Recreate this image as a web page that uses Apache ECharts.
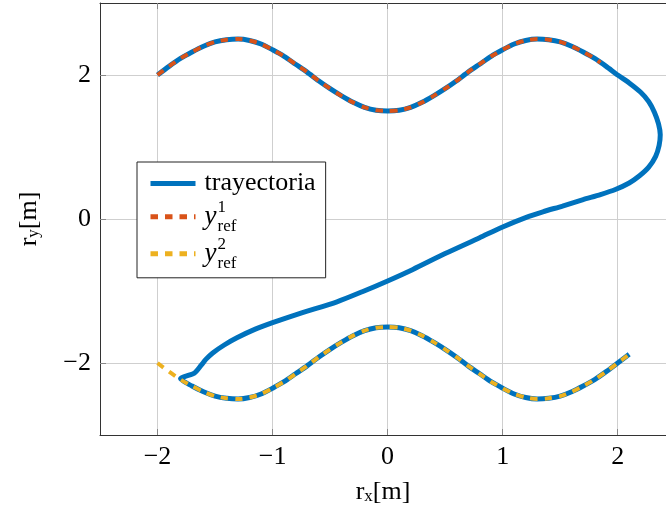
<!DOCTYPE html>
<html><head><meta charset="utf-8">
<script src="https://cdn.jsdelivr.net/npm/echarts@6/dist/echarts.min.js"></script>
<style>html,body{margin:0;padding:0;background:#fff}#c{width:666px;height:512px}</style>
</head><body><div id="c"></div>
<script>
// Reference y_ref^1 (upper curve)
const ref1X = [-2.0,-1.9,-1.8,-1.7,-1.6,-1.5,-1.4,-1.3,-1.2,-1.1,-1.0,-0.9,-0.8,-0.7,-0.6,-0.5,-0.4,-0.3,-0.2,-0.1,0.0,0.1,0.2,0.3,0.4,0.5,0.6,0.7,0.8,0.9,1.0,1.1,1.2,1.3,1.4,1.5,1.6,1.7,1.8,1.85];
const ref1Y = [2.00,2.12,2.23,2.32,2.40,2.46,2.49,2.50,2.48,2.43,2.35,2.26,2.15,2.04,1.92,1.81,1.71,1.62,1.55,1.51,1.50,1.51,1.55,1.62,1.71,1.81,1.92,2.04,2.15,2.26,2.35,2.43,2.48,2.50,2.49,2.46,2.40,2.32,2.23,2.17];
// Reference y_ref^2 (lower curve)
const ref2X = [-2.0,-1.9,-1.8,-1.7,-1.6,-1.5,-1.4,-1.3,-1.2,-1.1,-1.0,-0.9,-0.8,-0.7,-0.6,-0.5,-0.4,-0.3,-0.2,-0.1,0.0,0.1,0.2,0.3,0.4,0.5,0.6,0.7,0.8,0.9,1.0,1.1,1.2,1.3,1.4,1.5,1.6,1.7,1.8,1.9,2.0,2.1];
const ref2Y = [-2.00,-2.12,-2.23,-2.32,-2.40,-2.46,-2.49,-2.50,-2.48,-2.43,-2.35,-2.26,-2.15,-2.04,-1.92,-1.81,-1.71,-1.62,-1.55,-1.51,-1.50,-1.51,-1.55,-1.62,-1.71,-1.81,-1.92,-2.04,-2.15,-2.26,-2.35,-2.43,-2.48,-2.50,-2.49,-2.46,-2.40,-2.32,-2.23,-2.12,-2.00,-1.88];
// Trajectory
const trajX = [-2.0,-1.9,-1.8,-1.7,-1.6,-1.5,-1.4,-1.3,-1.2,-1.1,-1.0,-0.9,-0.8,-0.7,-0.6,-0.5,-0.4,-0.3,-0.2,-0.1,0.0,0.1,0.2,0.3,0.4,0.5,0.6,0.7,0.8,0.9,1.0,1.1,1.2,1.3,1.4,1.5,1.6,1.7,1.8,
  1.9,2.0,2.1,2.2,2.27,2.32,2.355,2.37,2.36,2.33,2.27,2.19,2.1,1.98,1.85,1.7,1.52,1.35,1.2,1.0,0.8,0.5,0.22,0.0,-0.22,-0.44,-0.76,-1.0,-1.15,-1.31,-1.42,-1.52,-1.58,-1.62,-1.68,-1.80,
  -1.7,-1.6,-1.5,-1.4,-1.3,-1.2,-1.1,-1.0,-0.9,-0.8,-0.7,-0.6,-0.5,-0.4,-0.3,-0.2,-0.1,0.0,0.1,0.2,0.3,0.4,0.5,0.6,0.7,0.8,0.9,1.0,1.1,1.2,1.3,1.4,1.5,1.6,1.7,1.8,1.9,2.0,2.1];
const trajY = [2.00,2.12,2.23,2.32,2.40,2.46,2.49,2.50,2.48,2.43,2.35,2.26,2.15,2.04,1.92,1.81,1.71,1.62,1.55,1.51,1.50,1.51,1.55,1.62,1.71,1.81,1.92,2.04,2.15,2.26,2.35,2.43,2.48,2.50,2.49,2.46,2.40,2.32,2.23,
  2.12,2.00,1.89,1.76,1.63,1.48,1.32,1.17,1.02,0.87,0.72,0.60,0.50,0.41,0.34,0.27,0.18,0.10,0.02,-0.11,-0.26,-0.48,-0.70,-0.86,-1.01,-1.15,-1.31,-1.44,-1.53,-1.65,-1.75,-1.86,-1.95,-2.03,-2.14,-2.22,
  -2.32,-2.40,-2.46,-2.49,-2.50,-2.48,-2.43,-2.35,-2.26,-2.15,-2.04,-1.92,-1.81,-1.71,-1.62,-1.55,-1.51,-1.50,-1.51,-1.55,-1.62,-1.71,-1.81,-1.92,-2.04,-2.15,-2.26,-2.35,-2.43,-2.48,-2.50,-2.49,-2.46,-2.40,-2.32,-2.23,-2.12,-2.00,-1.88];
const xTicks = [-2,-1,0,1,2];
const yTicks = [-2,0,2];

const SERIF = "'Liberation Serif','DejaVu Serif',serif";
const zip = (a,b) => a.map((v,i)=>[v,b[i]]);
const fmt = v => v < 0 ? '\u2212' + (-v) : String(v);
const legendText = {
  'trayectoria': '{n|trayectoria}',
  'y1': '{y|y}{sup|1}{sub|ref}',
  'y2': '{y|y}{sup|2}{sub|ref}'
};
const DASH = [7.5, 7];

const chart = echarts.init(document.getElementById('c'), null, {renderer:'canvas'});
chart.setOption({
  animation:false,
  backgroundColor:'#fff',
  grid:{left:100, top:3, right:0, height:432},
  xAxis:[{
    type:'value', min:-2.5, max:2.42,
    axisLine:{show:true, onZero:false, lineStyle:{color:'#333', width:1}},
    axisTick:{show:true, inside:true, length:6, customValues:xTicks, lineStyle:{color:'#888'}},
    axisLabel:{customValues:xTicks, formatter:fmt, color:'#000', fontFamily:SERIF, fontSize:26, margin:9, showMaxLabel:true, showMinLabel:true},
    splitLine:{show:true, lineStyle:{color:'#cfcfcf', width:1}},
    name:'{a|r}{s|x}{a|[m]}', nameLocation:'middle', nameGap:44,
    nameTextStyle:{rich:{a:{fontFamily:SERIF, fontSize:26, color:'#000', verticalAlign:'top', lineHeight:26}, s:{fontFamily:SERIF, fontSize:17, color:'#000', verticalAlign:'bottom', lineHeight:17}}}
  },{
    type:'value', min:-2.5, max:2.42, position:'top',
    axisLine:{show:true, onZero:false, lineStyle:{color:'#333', width:1}},
    axisTick:{show:true, inside:true, length:6, customValues:xTicks, lineStyle:{color:'#888'}},
    axisLabel:{show:false}, splitLine:{show:false}
  }],
  yAxis:{
    type:'value', min:-3, max:3,
    axisLine:{show:true, onZero:false, lineStyle:{color:'#333', width:1}},
    axisTick:{show:true, inside:true, length:6, customValues:yTicks, lineStyle:{color:'#888'}},
    axisLabel:{customValues:yTicks, formatter:fmt, color:'#000', fontFamily:SERIF, fontSize:26, margin:9},
    splitLine:{show:true, lineStyle:{color:'#cfcfcf', width:1}},
    name:'{a|r}{s|y}{a|[m]}', nameLocation:'middle', nameGap:58,
    nameTextStyle:{rich:{a:{fontFamily:SERIF, fontSize:26, color:'#000', verticalAlign:'top', lineHeight:26}, s:{fontFamily:SERIF, fontSize:17, color:'#000', verticalAlign:'bottom', lineHeight:17}}}
  },
  legend:{
    orient:'vertical', left:137, top:162, padding:[7,10,6,11], itemGap:1, itemWidth:45, itemHeight:36,
    borderColor:'#222', borderWidth:1, backgroundColor:'#fff', selectedMode:false,
    itemStyle:{color:'rgba(0,0,0,0)', borderColor:'rgba(0,0,0,0)', borderWidth:0, opacity:0},
    lineStyle:{width:5},
    data:[
      {name:'trayectoria', lineStyle:{width:5}},
      {name:'y1', lineStyle:{width:5}},
      {name:'y2', lineStyle:{width:5}}
    ],
    formatter: name => legendText[name],
    textStyle:{rich:{
      n:{fontFamily:SERIF, fontSize:26, lineHeight:36, color:'#000', padding:[0,0,0,4]},
      y:{fontFamily:SERIF, fontStyle:'italic', fontSize:27, lineHeight:36, color:'#000', padding:[0,1,0,4]},
      sup:{fontFamily:SERIF, fontSize:17, lineHeight:17, verticalAlign:'top', width:0, color:'#000'},
      sub:{fontFamily:SERIF, fontSize:17, lineHeight:15, verticalAlign:'bottom', color:'#000'}
    }}
  },
  series:[
    {name:'trayectoria', type:'line', data:zip(trajX,trajY), showSymbol:false, symbol:'none', smooth:0.25,
     lineStyle:{color:'#0072BD', width:5}, itemStyle:{color:'#0072BD'}, z:2},
    {name:'y1', type:'line', data:zip(ref1X,ref1Y), showSymbol:false, symbol:'none', smooth:0.25,
     lineStyle:{color:'#D95319', width:4, type:DASH}, itemStyle:{color:'#D95319'}, z:3},
    {name:'y2', type:'line', data:zip(ref2X,ref2Y), showSymbol:false, symbol:'none', smooth:0.25,
     lineStyle:{color:'#EDB120', width:4, type:DASH}, itemStyle:{color:'#EDB120'}, z:3}
  ]
});
</script></body></html>
